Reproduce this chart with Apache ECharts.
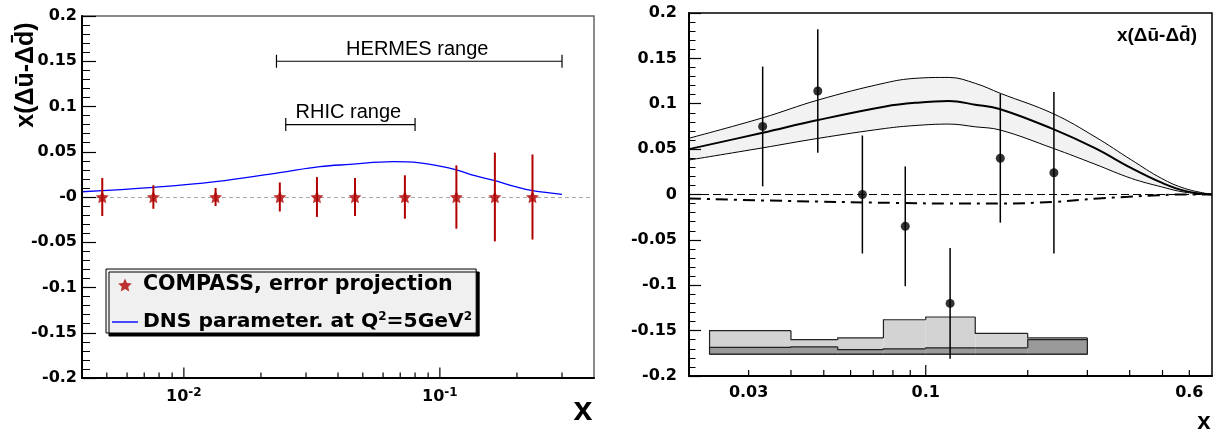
<!DOCTYPE html>
<html>
<head>
<meta charset="utf-8">
<script src="https://cdn.jsdelivr.net/npm/echarts@6/dist/echarts.min.js"></script>
<style>
  html, body { margin: 0; padding: 0; background: #fff; }
  #chart { width: 1221px; height: 432px; }
</style>
</head>
<body>
<div id="chart"></div>
<script>
// ---------- left panel: COMPASS projected uncertainties ----------
const compassX   = [0.0048, 0.0076, 0.0133, 0.0237, 0.0331, 0.0466, 0.073, 0.116, 0.164, 0.23];
const compassY   = [0, 0, 0, 0, 0, 0, 0, 0, 0, 0];
const compassErr = [0.021, 0.013, 0.010, 0.016, 0.022, 0.021, 0.024, 0.035, 0.049, 0.047];

// DNS parametrisation at Q^2 = 5 GeV^2
const dnsX = [0.004, 0.0076, 0.0133, 0.0237, 0.034, 0.0445, 0.0655, 0.0835, 0.1, 0.116, 0.137, 0.164, 0.197, 0.23, 0.3];
const dnsY = [0.0058, 0.0107, 0.017, 0.027, 0.0335, 0.036, 0.039, 0.0378, 0.0342, 0.030, 0.0235, 0.018, 0.0114, 0.007, 0.003];

// kinematic ranges of other experiments
const rangeNames = ['HERMES range', 'RHIC range'];
const rangeLo    = [0.023, 0.025];
const rangeHi    = [0.3, 0.08];
const rangeY     = [0.15, 0.08];

// ---------- right panel: measured points ----------
const dataX   = [0.033, 0.048, 0.065, 0.087, 0.118, 0.166, 0.239];
const dataY   = [0.075, 0.114, 0.0, -0.035, -0.120, 0.040, 0.024];
const dataErr = [0.066, 0.068, 0.065, 0.066, 0.061, 0.071, 0.089];

// fit with its uncertainty band
const bandX    = [0.02, 0.033, 0.048, 0.076, 0.093, 0.117, 0.14, 0.166, 0.238, 0.316, 0.405, 0.497, 0.582, 0.7];
const bandMid  = [0.050, 0.068, 0.082, 0.097, 0.101, 0.103, 0.099, 0.094, 0.072, 0.051, 0.029, 0.013, 0.004, 0.0];
const bandHigh = [0.062, 0.0845, 0.104, 0.123, 0.128, 0.129, 0.1225, 0.1115, 0.089, 0.0636, 0.038, 0.0177, 0.0066, 0.0];
const bandLow  = [0.038, 0.0514, 0.0618, 0.0728, 0.076, 0.0776, 0.0746, 0.071, 0.0508, 0.0334, 0.0177, 0.0084, 0.0025, 0.0];

// alternative curve (dash-dotted)
const altX = [0.02, 0.0385, 0.0812, 0.117, 0.166, 0.238, 0.323, 0.396, 0.486, 0.58, 0.7];
const altY = [-0.0044, -0.0071, -0.0093, -0.0099, -0.0099, -0.0082, -0.0044, -0.0026, -0.0008, 0.0, 0.0];

// systematic error bands (step histograms)
const sysEdges = [0.023, 0.04, 0.055, 0.075, 0.1, 0.14, 0.2, 0.3];
const sysLight = [-0.150, -0.160, -0.158, -0.138, -0.135, -0.153, -0.158];
const sysDark  = [-0.1685, -0.168, -0.171, -0.170, -0.169, -0.169, -0.160];
const sysBase  = -0.176;

// axis ranges and tick positions
const yMin = -0.2, yMax = 0.2, yStep = 0.05;
const leftXMin = 0.004, leftXMax = 0.4;
const rightXMin = 0.02, rightXMax = 0.7;
const leftTicks  = [0.005, 0.006, 0.007, 0.008, 0.009, 0.01, 0.02, 0.03, 0.04, 0.05, 0.06, 0.07, 0.08, 0.09, 0.1, 0.2, 0.3];
const leftMajor  = [0.01, 0.1];
const leftLabelVals = [0.01, 0.1];
const leftLabelExp  = ['-2', '-1'];
const rightTicks = [0.03, 0.04, 0.05, 0.06, 0.07, 0.08, 0.09, 0.1, 0.2, 0.3, 0.4, 0.5, 0.6];
const rightMajor = [0.1];
const rightLabelVals = [0.03, 0.1, 0.6];
const rightLabelText = ['0.03', '0.1', '0.6'];

const STAR = 'path://M0,-10L2.78,-3.83L9.511,-3.09L4.5,1.46L5.878,8.09L0,4.73L-5.878,8.09L-4.5,1.46L-9.511,-3.09L-2.78,-3.83Z';
const BAR = 'path://M0,0H26V1.4H0Z';
const RED = '#b00000';
const NUM_FONT = 'DejaVu Sans';
const TITLE_FONT = 'Liberation Sans';

const pairs = (xs, ys) => xs.map((x, i) => [x, ys[i]]);

function yAxisCfg(gridIndex, tickLen, minorLen, margin, zeroText) {
  return {
    type: 'value', gridIndex, min: yMin, max: yMax, interval: yStep, z: 10,
    axisLine: { show: true, onZero: false, lineStyle: { color: '#000', width: 2 } },
    axisTick: { show: true, inside: true, length: tickLen, lineStyle: { color: '#000', width: 1.2 } },
    minorTick: { show: true, splitNumber: 5, length: minorLen, lineStyle: { color: '#000', width: 1 } },
    splitLine: { show: false }, minorSplitLine: { show: false },
    axisLabel: {
      fontFamily: NUM_FONT, fontWeight: 'bold', fontSize: 16, color: '#000', margin,
      formatter: v => { const r = Math.round(v * 100) / 100; return r === 0 ? zeroText : String(r); }
    }
  };
}

function xAxisCfg(gridIndex, min, max) {
  return {
    type: 'log', logBase: 10, gridIndex, min, max, z: 10,
    axisLine: { show: true, onZero: false, lineStyle: { color: '#000', width: 2 } },
    axisTick: { show: false }, axisLabel: { show: false },
    splitLine: { show: false }, minorTick: { show: false }
  };
}

// tick marks on a log axis, drawn upward from the bottom of the frame
function tickSeries(ax, ticks, majors, majLen, minLen) {
  return {
    type: 'custom', xAxisIndex: ax, yAxisIndex: ax, silent: true, clip: false, z: 6,
    data: ticks.map(v => [v, yMin]),
    renderItem: (params, api) => {
      const v = api.value(0);
      const p = api.coord([v, api.value(1)]);
      const len = majors.indexOf(v) >= 0 ? majLen : minLen;
      return { type: 'line', shape: { x1: p[0], y1: p[1], x2: p[0], y2: p[1] - len },
               style: { stroke: '#000', lineWidth: 1.2 } };
    }
  };
}

// tick labels on a log axis
function labelSeries(ax, vals, texts, offset) {
  return {
    type: 'custom', xAxisIndex: ax, yAxisIndex: ax, silent: true, clip: false, z: 6,
    data: vals.map(v => [v, yMin]),
    renderItem: (params, api) => {
      const p = api.coord([api.value(0), api.value(1)]);
      return { type: 'text', x: p[0], y: p[1] + offset,
        style: {
          text: texts[params.dataIndex], align: 'center', verticalAlign: 'middle', fill: '#000',
          rich: {
            b: { fontFamily: NUM_FONT, fontWeight: 'bold', fontSize: 16, lineHeight: 20 },
            s: { fontFamily: NUM_FONT, fontWeight: 'bold', fontSize: 12, lineHeight: 12, verticalAlign: 'top' }
          }
        } };
    }
  };
}

function errorBarSeries(ax, xs, ys, es, color, width, z) {
  return {
    type: 'custom', xAxisIndex: ax, yAxisIndex: ax, silent: true, clip: false, z,
    data: xs.map((x, i) => [x, ys[i], es[i]]),
    renderItem: (params, api) => {
      const x = api.value(0), y = api.value(1), e = api.value(2);
      const a = api.coord([x, y + e]), b = api.coord([x, y - e]);
      return { type: 'line', shape: { x1: a[0], y1: a[1], x2: b[0], y2: b[1] },
               style: { stroke: color, lineWidth: width } };
    }
  };
}

// one step-histogram bin per data item; outline follows the steps
function histSeries(tops, fill, z) {
  return {
    type: 'custom', xAxisIndex: 1, yAxisIndex: 1, silent: true, clip: false, z,
    data: tops.map((t, i) => [sysEdges[i], sysEdges[i + 1], t, i === 0 ? sysBase : tops[i - 1], i === tops.length - 1 ? 1 : 0]),
    renderItem: (params, api) => {
      const lo = api.value(0), hi = api.value(1), top = api.value(2), prev = api.value(3), last = api.value(4);
      const a = api.coord([lo, top]), b = api.coord([hi, sysBase]), pv = api.coord([lo, prev]);
      const stroke = { stroke: '#222', lineWidth: 1.2, fill: null };
      const children = [
        { type: 'rect', shape: { x: a[0], y: a[1], width: b[0] - a[0], height: b[1] - a[1] }, style: { fill } },
        { type: 'polyline', shape: { points: [[a[0], pv[1]], [a[0], a[1]], [b[0], a[1]]] }, style: stroke },
        { type: 'line', shape: { x1: a[0], y1: b[1], x2: b[0], y2: b[1] }, style: stroke }
      ];
      if (last) children.push({ type: 'line', shape: { x1: b[0], y1: a[1], x2: b[0], y2: b[1] }, style: stroke });
      return { type: 'group', children };
    }
  };
}

const chart = echarts.init(document.getElementById('chart'));

chart.setOption({
  animation: false,
  backgroundColor: '#fff',
  grid: [
    { left: 82, top: 16, width: 512, height: 362, show: true, borderColor: '#666', borderWidth: 1.5, z: 10 },
    { left: 689, top: 13, width: 523, height: 363, show: true, borderColor: '#000', borderWidth: 1.5, z: 10 }
  ],
  xAxis: [xAxisCfg(0, leftXMin, leftXMax), xAxisCfg(1, rightXMin, rightXMax)],
  yAxis: [yAxisCfg(0, 14, 8, 5, '-0'), yAxisCfg(1, 12, 6.5, 12, '0')],
  legend: {
    left: 106, top: 269, orient: 'vertical',
    backgroundColor: '#f0f0f0', borderColor: '#000', borderWidth: 1,
    shadowColor: '#000', shadowBlur: 0, shadowOffsetX: 3, shadowOffsetY: 3,
    padding: [5, 4, 0, 6], itemGap: 15, itemWidth: 26, itemHeight: 13,
    textStyle: {
      fontFamily: NUM_FONT, fontWeight: 'bold', fontSize: 20.6, color: '#000', lineHeight: 22,
      rich: {
        t: { fontFamily: NUM_FONT, fontWeight: 'bold', fontSize: 20.3, lineHeight: 22 },
        s: { fontFamily: NUM_FONT, fontWeight: 'bold', fontSize: 12, lineHeight: 12, verticalAlign: 'top' }
      }
    },
    formatter: name => name.indexOf('DNS') === 0 ? '{t|DNS parameter. at Q}{s|2}{t|=5GeV}{s|2}' : name,
    data: [
      { name: 'COMPASS, error projection', icon: STAR },
      { name: 'DNS parameter. at Q2=5GeV2', icon: BAR }
    ]
  },
  graphic: [
    { type: 'text', x: 26, y: 75, rotation: Math.PI / 2, z: 20,
      style: { text: 'x(Δū-Δd̄)', fontFamily: TITLE_FONT, fontWeight: 'bold', fontSize: 25, fill: '#000', align: 'center', verticalAlign: 'middle' } },
    { type: 'text', x: 583, y: 411, z: 20,
      style: { text: 'x', fontFamily: TITLE_FONT, fontWeight: 'bold', fontSize: 34, fill: '#000', align: 'center', verticalAlign: 'middle' } },
    { type: 'text', x: 1157, y: 36, z: 20,
      style: { text: 'x(Δū-Δd̄)', fontFamily: TITLE_FONT, fontWeight: 'bold', fontSize: 19, fill: '#000', align: 'center', verticalAlign: 'middle' } },
    { type: 'text', x: 1204, y: 422, z: 20,
      style: { text: 'x', fontFamily: TITLE_FONT, fontWeight: 'bold', fontSize: 24, fill: '#000', align: 'center', verticalAlign: 'middle' } }
  ],
  series: [
    // ---- left panel ----
    {
      name: 'DNS parameter. at Q2=5GeV2', type: 'line', xAxisIndex: 0, yAxisIndex: 0,
      data: pairs(dnsX, dnsY), smooth: 0.4, symbol: 'none', z: 3,
      lineStyle: { color: '#0000ff', width: 1.3 }, itemStyle: { color: '#0000ff' },
      markLine: {
        silent: true, symbol: 'none', label: { show: false },
        lineStyle: { color: '#aaa', type: [4, 3], width: 1 },
        data: [{ yAxis: 0 }]
      }
    },
    errorBarSeries(0, compassX, compassY, compassErr, RED, 2, 4),
    {
      name: 'COMPASS, error projection', type: 'scatter', xAxisIndex: 0, yAxisIndex: 0,
      data: pairs(compassX, compassY), symbol: STAR, symbolSize: 13, symbolKeepAspect: true, z: 5,
      itemStyle: { color: RED }
    },
    {
      type: 'custom', xAxisIndex: 0, yAxisIndex: 0, silent: true, clip: false, z: 4,
      data: rangeNames.map((n, i) => [rangeLo[i], rangeY[i], rangeHi[i]]),
      renderItem: (params, api) => {
        const y = api.value(1);
        const a = api.coord([api.value(0), y]), b = api.coord([api.value(2), y]);
        const st = { stroke: '#000', lineWidth: 1.2 };
        return { type: 'group', children: [
          { type: 'line', shape: { x1: a[0], y1: a[1], x2: b[0], y2: b[1] }, style: st },
          { type: 'line', shape: { x1: a[0], y1: a[1] - 6.5, x2: a[0], y2: a[1] + 6.5 }, style: st },
          { type: 'line', shape: { x1: b[0], y1: b[1] - 6.5, x2: b[0], y2: b[1] + 6.5 }, style: st },
          { type: 'text', x: (a[0] + b[0]) / 2 - 2, y: a[1] - 12,
            style: { text: rangeNames[params.dataIndex], fontFamily: TITLE_FONT, fontSize: 20, fill: '#000', align: 'center', verticalAlign: 'middle' } }
        ] };
      }
    },
    tickSeries(0, leftTicks, leftMajor, 10.5, 5.5),
    labelSeries(0, leftLabelVals, leftLabelExp.map(e => '{b|10}{s|' + e + '}'), 19),

    // ---- right panel ----
    // upper edge of the band: light fill down to the frame
    {
      name: 'band high', type: 'line', xAxisIndex: 1, yAxisIndex: 1,
      data: pairs(bandX, bandHigh), smooth: 0.4, symbol: 'none', z: 1,
      lineStyle: { color: '#000', width: 1 },
      areaStyle: { color: '#f2f2f2', opacity: 1, origin: 'start' }
    },
    // lower edge of the band: white fill below it closes the band
    {
      name: 'band low', type: 'line', xAxisIndex: 1, yAxisIndex: 1,
      data: pairs(bandX, bandLow), smooth: 0.4, symbol: 'none', z: 1,
      lineStyle: { color: '#000', width: 1 },
      areaStyle: { color: '#fff', opacity: 1, origin: 'start' }
    },
    {
      name: 'fit', type: 'line', xAxisIndex: 1, yAxisIndex: 1,
      data: pairs(bandX, bandMid), smooth: 0.4, symbol: 'none', z: 3,
      lineStyle: { color: '#000', width: 2 }
    },
    {
      name: 'alt', type: 'line', xAxisIndex: 1, yAxisIndex: 1,
      data: pairs(altX, altY), smooth: 0.4, symbol: 'none', z: 3,
      lineStyle: { color: '#000', width: 2, type: [12, 6, 3, 6] },
      markLine: {
        silent: true, symbol: 'none', label: { show: false },
        lineStyle: { color: '#000', type: [8, 4], width: 1 },
        data: [{ yAxis: 0 }]
      }
    },
    histSeries(sysLight, '#d3d3d3', 3),
    histSeries(sysDark, '#9a9a9a', 3),
    errorBarSeries(1, dataX, dataY, dataErr, '#000', 1.5, 4),
    {
      name: 'data', type: 'scatter', xAxisIndex: 1, yAxisIndex: 1,
      data: pairs(dataX, dataY), symbol: 'circle', symbolSize: 9, z: 5,
      itemStyle: { color: '#000' }
    },
    tickSeries(1, rightTicks, rightMajor, 11, 6),
    labelSeries(1, rightLabelVals, rightLabelText.map(t => '{b|' + t + '}'), 17)
  ]
});
</script>
</body>
</html>
